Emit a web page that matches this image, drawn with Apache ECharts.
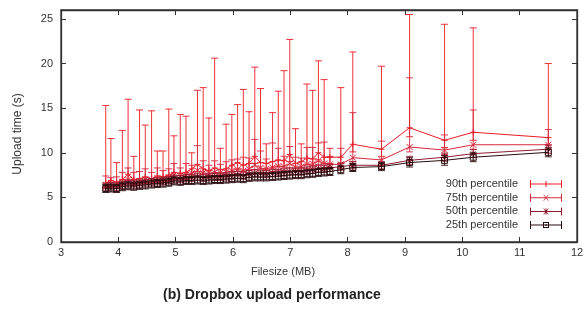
<!DOCTYPE html>
<html>
<head>
<meta charset="utf-8">
<title>Dropbox upload performance</title>
<script src="https://cdn.jsdelivr.net/npm/echarts@6/dist/echarts.min.js"></script>
<style>
    html, body { margin: 0; padding: 0; background: #fff; }
    #chart { width: 587px; height: 311px; }
</style>
</head>
<body>
<div id="chart"></div>
<script>
// file sizes (MB)
const sizes = [3.78, 3.87, 3.97, 4.07, 4.17, 4.27, 4.37, 4.47, 4.58, 4.68, 4.78, 4.88, 4.97, 5.08, 5.18, 5.28,
    5.38, 5.48, 5.58, 5.68, 5.78, 5.88, 5.98, 6.08, 6.18, 6.28, 6.38, 6.48, 6.58, 6.69, 6.79, 6.89,
    6.99, 7.09, 7.19, 7.29, 7.39, 7.49, 7.59, 7.69, 7.88, 8.09, 8.59, 9.08, 9.69, 10.19, 11.5];

// 90th percentile
const p90 = [6.6, 6.9, 6.7, 7.0, 7.6, 7.0, 7.1, 7.3, 7.1, 7.4, 7.3, 7.5, 7.8, 7.7, 7.8, 8.2,
    8.7, 8.2, 8.0, 8.3, 8.1, 8.2, 8.6, 8.9, 8.6, 8.8, 9.6, 8.9, 8.8, 9.0, 9.2, 9.1,
    9.8, 8.8, 9.0, 9.4, 9.3, 10.0, 9.5, 9.5, 9.5, 10.95, 10.4, 12.8, 11.4, 12.3, 11.7];
const p90Lo = [6.1, 6.3, 6.2, 6.4, 6.9, 6.5, 6.6, 6.7, 6.6, 6.8, 6.8, 6.9, 7.2, 7.1, 7.2, 7.5,
    7.9, 7.6, 7.4, 7.7, 7.5, 7.6, 7.9, 8.2, 7.9, 8.1, 8.8, 8.2, 8.1, 8.3, 8.5, 8.4,
    9.0, 8.2, 8.3, 8.7, 8.6, 9.2, 8.8, 8.8, 8.8, 10.1, 9.6, 11.8, 10.6, 11.4, 10.9];
const p90Hi = [15.3, 11.6, 8.9, 12.5, 16.0, 9.6, 14.8, 13.1, 14.7, 10.2, 10.2, 14.9, 11.9, 14.3, 14.1, 10.0,
    17.0, 17.3, 13.9, 20.6, 10.5, 13.2, 14.3, 15.4, 17.1, 14.6, 19.6, 17.2, 11.0, 14.5, 16.9, 19.2,
    22.7, 12.7, 11.0, 17.7, 17.0, 20.3, 18.2, 10.5, 17.3, 21.3, 19.7, 25.5, 24.4, 24.0, 20.0];

// 75th percentile
const p75 = [6.4, 6.5, 6.45, 6.7, 7.0, 6.8, 6.85, 7.0, 6.95, 7.1, 7.1, 7.25, 7.5, 7.4, 7.5, 7.7,
    8.0, 7.75, 7.7, 7.8, 7.75, 7.8, 8.0, 8.15, 8.0, 8.2, 8.6, 8.3, 8.2, 8.35, 8.5, 8.45,
    8.8, 8.4, 8.45, 8.7, 8.75, 9.1, 8.8, 8.7, 8.7, 9.45, 9.2, 10.65, 10.3, 10.9, 10.9];
const p75Lo = [6.0, 6.05, 6.0, 6.25, 6.5, 6.35, 6.4, 6.55, 6.5, 6.65, 6.65, 6.8, 7.0, 6.95, 7.05, 7.25,
    7.5, 7.3, 7.25, 7.35, 7.3, 7.35, 7.55, 7.7, 7.55, 7.75, 8.1, 7.85, 7.75, 7.9, 8.05, 8.0,
    8.3, 7.95, 8.0, 8.25, 8.3, 8.6, 8.35, 8.25, 8.25, 9.0, 8.75, 10.1, 9.8, 10.4, 10.4];
const p75Hi = [7.4, 7.2, 7.3, 7.8, 8.3, 7.8, 7.9, 8.2, 7.8, 8.3, 8.0, 8.2, 8.8, 8.3, 8.8, 8.6,
    10.8, 9.1, 8.6, 9.1, 8.7, 9.0, 9.2, 9.3, 9.5, 9.4, 11.5, 10.2, 9.3, 11.1, 10.5, 9.6,
    10.7, 9.5, 9.4, 10.6, 10.6, 11.1, 11.2, 9.6, 10.5, 14.5, 11.3, 18.4, 12.0, 14.8, 12.6];

// 50th percentile
const p50 = [6.2, 6.25, 6.2, 6.4, 6.55, 6.45, 6.55, 6.65, 6.7, 6.8, 6.85, 6.95, 7.1, 7.05, 7.15, 7.2,
    7.3, 7.2, 7.25, 7.3, 7.3, 7.35, 7.45, 7.5, 7.45, 7.6, 7.7, 7.65, 7.6, 7.7, 7.75, 7.8,
    7.9, 7.9, 7.9, 8.0, 8.1, 8.25, 8.2, 8.3, 8.45, 8.6, 8.6, 9.15, 9.5, 9.9, 10.4];
const p50Lo = [5.8, 5.85, 5.8, 6.0, 6.15, 6.05, 6.15, 6.25, 6.3, 6.4, 6.45, 6.55, 6.7, 6.65, 6.75, 6.8,
    6.9, 6.8, 6.85, 6.9, 6.9, 6.95, 7.05, 7.1, 7.05, 7.2, 7.3, 7.25, 7.2, 7.3, 7.35, 7.4,
    7.5, 7.5, 7.5, 7.6, 7.7, 7.85, 7.8, 7.9, 8.05, 8.2, 8.2, 8.7, 9.05, 9.45, 9.95];
const p50Hi = [6.6, 6.65, 6.6, 6.8, 6.95, 6.85, 6.95, 7.05, 7.1, 7.2, 7.25, 7.35, 7.5, 7.45, 7.55, 7.6,
    7.7, 7.6, 7.65, 7.7, 7.7, 7.75, 7.85, 7.9, 7.85, 8.0, 8.1, 8.05, 8.0, 8.1, 8.15, 8.2,
    8.3, 8.3, 8.3, 8.4, 8.5, 8.65, 8.6, 8.7, 8.85, 9.0, 9.0, 9.6, 9.95, 10.35, 10.85];

// 25th percentile
const p25 = [6.0, 6.05, 6.0, 6.2, 6.3, 6.25, 6.35, 6.4, 6.5, 6.55, 6.6, 6.7, 6.85, 6.8, 6.9, 6.9,
    6.95, 6.9, 6.95, 7.0, 7.0, 7.05, 7.1, 7.15, 7.1, 7.25, 7.3, 7.3, 7.3, 7.35, 7.4, 7.45,
    7.5, 7.55, 7.55, 7.65, 7.7, 7.8, 7.85, 7.9, 8.1, 8.35, 8.45, 8.9, 9.15, 9.5, 10.05];
const p25Lo = [5.55, 5.6, 5.55, 5.75, 5.85, 5.8, 5.9, 5.95, 6.05, 6.1, 6.15, 6.25, 6.4, 6.35, 6.45, 6.45,
    6.5, 6.45, 6.5, 6.55, 6.55, 6.6, 6.65, 6.7, 6.65, 6.8, 6.85, 6.85, 6.85, 6.9, 6.95, 7.0,
    7.05, 7.1, 7.1, 7.2, 7.25, 7.35, 7.4, 7.45, 7.65, 7.9, 8.0, 8.4, 8.6, 9.0, 9.55];
const p25Hi = [6.45, 6.5, 6.45, 6.65, 6.75, 6.7, 6.8, 6.85, 6.95, 7.0, 7.05, 7.15, 7.3, 7.25, 7.35, 7.35,
    7.4, 7.35, 7.4, 7.45, 7.45, 7.5, 7.55, 7.6, 7.55, 7.7, 7.75, 7.75, 7.75, 7.8, 7.85, 7.9,
    7.95, 8.0, 8.0, 8.1, 8.15, 8.25, 8.3, 8.35, 8.55, 8.8, 8.9, 9.45, 9.7, 10.0, 10.55];

const xTicks = [3, 12, 1];
const yTicks = [0, 26, 5];

document.addEventListener('DOMContentLoaded', function() {
    const chart = echarts.init(document.getElementById('chart'));
    const font = "'Liberation Sans', Arial, sans-serif";
    const textColor = '#333';
    const frameColor = '#333';

    // marker strokes drawn around (cx, cy)
    function markerShapes(kind, cx, cy, style) {
        const s = 3;
        const seg = (x1, y1, x2, y2) => ({ type: 'line', shape: { x1: x1, y1: y1, x2: x2, y2: y2 }, style: style });
        const plus = [seg(cx - s, cy, cx + s, cy), seg(cx, cy - s, cx, cy + s)];
        const cross = [seg(cx - s, cy - s, cx + s, cy + s), seg(cx - s, cy + s, cx + s, cy - s)];
        if (kind === 'plus') return plus;
        if (kind === 'cross') return cross;
        if (kind === 'star') return plus.concat([seg(cx - 2.3, cy - 2.3, cx + 2.3, cy + 2.3), seg(cx - 2.3, cy + 2.3, cx + 2.3, cy - 2.3)]);
        return [
            { type: 'rect', shape: { x: cx - s, y: cy - s, width: 2 * s, height: 2 * s }, style: style },
            { type: 'rect', shape: { x: cx - 0.5, y: cy - 0.5, width: 1, height: 1 }, style: { fill: style.stroke } }
        ];
    }

    function errorSeries(name, color, mid, lo, hi, kind, z) {
        return {
            name: name,
            type: 'custom',
            z: z,
            silent: true,
            data: sizes.map((x, i) => [x, mid[i], lo[i], hi[i]]),
            encode: { x: 0, y: [1, 2, 3] },
            renderItem: function(params, api) {
                const x = api.value(0);
                const p = api.coord([x, api.value(1)]);
                const pl = api.coord([x, api.value(2)]);
                const ph = api.coord([x, api.value(3)]);
                const style = { stroke: color, lineWidth: 1, fill: null, opacity: 0.9 };
                const w = 3.5;
                return {
                    type: 'group',
                    children: [
                        { type: 'line', shape: { x1: p[0], y1: pl[1], x2: p[0], y2: ph[1] }, style: style },
                        { type: 'line', shape: { x1: p[0] - w, y1: pl[1], x2: p[0] + w, y2: pl[1] }, style: style },
                        { type: 'line', shape: { x1: p[0] - w, y1: ph[1], x2: p[0] + w, y2: ph[1] }, style: style }
                    ].concat(markerShapes(kind, p[0], p[1], { stroke: color, lineWidth: 1, fill: null }))
                };
            }
        };
    }

    function lineSeries(name, color, mid, z) {
        return {
            name: name,
            type: 'line',
            z: z,
            showSymbol: false,
            silent: true,
            data: sizes.map((x, i) => [x, mid[i]]),
            itemStyle: { color: color },
            lineStyle: { color: color, width: 1 }
        };
    }

    // legend icons: horizontal line with end caps and marker in the middle
    const base = 'M0 3.5H32V4.5H0Z M0 0H1V8H0Z M31 0H32V8H31Z';
    const iconPlus = ' M15.5 1H16.5V7H15.5Z M13 3.5H19V4.5H13Z';
    const iconCross = ' M13.2 1L14 1L18.8 7L18 7Z M18 1L18.8 1L14 7L13.2 7Z';
    const iconBox = ' M13 1H19V7H13Z M14 2V6H18V2Z M15.5 3H16.5V5H15.5Z';

    const names = ['90th percentile', '75th percentile', '50th percentile', '25th percentile'];
    const colors = ['#ec1c24', '#d8283c', '#8e1b30', '#2a0a0c'];

    // frame axis settings shared by all four sides
    const axisLine = { show: true, onZero: false, lineStyle: { color: frameColor, width: 1.3 } };
    const axisTick = { show: true, inside: true, length: 5, lineStyle: { color: frameColor } };

    chart.setOption({
        animation: false,
        textStyle: { fontFamily: font },
        title: {
            text: '(b) Dropbox upload performance',
            left: 163,
            top: 288,
            padding: 0,
            textStyle: { fontFamily: font, fontSize: 14, fontWeight: 'bold', color: '#222' }
        },
        grid: { left: 61, right: 10, top: 10, bottom: 69, show: true, borderColor: frameColor, borderWidth: 1.3 },
        legend: {
            orient: 'vertical',
            align: 'right',
            right: 25,
            top: 178.5,
            padding: 0,
            itemWidth: 32,
            itemHeight: 8,
            itemGap: 2.7,
            selectedMode: false,
            textStyle: { fontFamily: font, fontSize: 11, color: textColor, padding: [0, 7, 0, 0] },
            data: [
                { name: names[0], icon: 'path://' + base + iconPlus },
                { name: names[1], icon: 'path://' + base + iconCross },
                { name: names[2], icon: 'path://' + base + iconPlus + iconCross },
                { name: names[3], icon: 'path://' + base + iconBox }
            ]
        },
        xAxis: [{
            type: 'value',
            min: xTicks[0],
            max: xTicks[1],
            interval: xTicks[2],
            name: 'Filesize (MB)',
            nameLocation: 'middle',
            nameGap: 24,
            nameTextStyle: { fontFamily: font, fontSize: 11, color: textColor, padding: [0, 72, 0, 0] },
            axisLine: axisLine,
            axisTick: axisTick,
            axisLabel: { fontFamily: font, fontSize: 11, color: textColor, margin: 5 },
            splitLine: { show: false }
        }, {
            type: 'value',
            position: 'top',
            min: xTicks[0],
            max: xTicks[1],
            interval: xTicks[2],
            axisLine: axisLine,
            axisTick: axisTick,
            axisLabel: { show: false },
            splitLine: { show: false }
        }],
        yAxis: [{
            type: 'value',
            min: yTicks[0],
            max: yTicks[1],
            interval: yTicks[2],
            name: 'Upload time (s)',
            nameLocation: 'middle',
            nameGap: 37,
            nameTextStyle: { fontFamily: font, fontSize: 12, color: textColor, padding: [0, 16, 0, 0] },
            axisLine: axisLine,
            axisTick: axisTick,
            axisLabel: { fontFamily: font, fontSize: 11, color: textColor, margin: 8, showMaxLabel: false },
            splitLine: { show: false }
        }, {
            type: 'value',
            position: 'right',
            min: yTicks[0],
            max: yTicks[1],
            interval: yTicks[2],
            axisLine: axisLine,
            axisTick: axisTick,
            axisLabel: { show: false },
            splitLine: { show: false }
        }],
        series: [
            lineSeries(names[0], colors[0], p90, 2),
            errorSeries(names[0], colors[0], p90, p90Lo, p90Hi, 'plus', 2),
            lineSeries(names[1], colors[1], p75, 3),
            errorSeries(names[1], colors[1], p75, p75Lo, p75Hi, 'cross', 3),
            lineSeries(names[2], colors[2], p50, 4),
            errorSeries(names[2], colors[2], p50, p50Lo, p50Hi, 'star', 4),
            lineSeries(names[3], colors[3], p25, 5),
            errorSeries(names[3], colors[3], p25, p25Lo, p25Hi, 'box', 5)
        ]
    });

    window.addEventListener('resize', function() {
        chart.resize();
    });
});
</script>
</body>
</html>
